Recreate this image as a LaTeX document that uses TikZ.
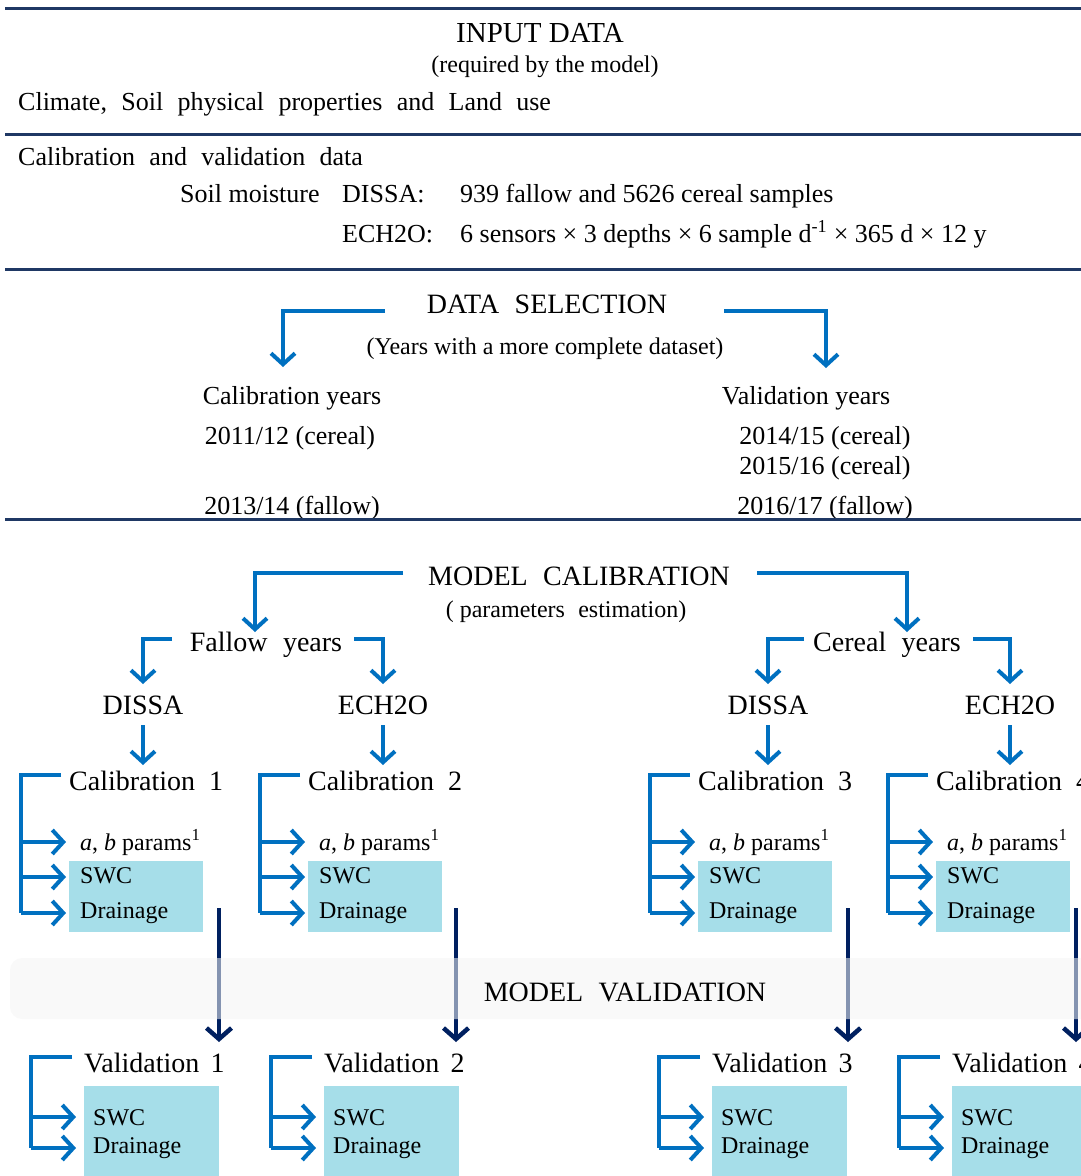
\documentclass[tikz,border=0pt]{standalone}
\usepackage{fontspec}
\setmainfont{Liberation Serif}
\usetikzlibrary{arrows.meta,calc}

\definecolor{flowblue}{RGB}{0,112,192}
\definecolor{deepnavy}{RGB}{0,32,96}
\definecolor{rulecol}{RGB}{31,56,100}
\definecolor{resultfill}{RGB}{166,222,233}
\definecolor{bandgray}{RGB}{244,244,244}

\newcommand\wsp{\hspace{0.55em}}

\tikzset{
  rulebar/.style={draw=rulecol, line width=3pt},
  flowline/.style={draw=flowblue, line width=4pt},
  flow/.style={flowline, -{Straight Barb[length=11pt,width=24pt]}},
  navyflow/.style={draw=deepnavy, line width=4.5pt, -{Straight Barb[length=11pt,width=25pt]}},
  txt/.style={inner sep=0pt, text=black},
  title/.style={txt, font=\fontsize{29}{33}\selectfont},
  paren/.style={txt, font=\fontsize{24}{28}\selectfont},
  body/.style={txt, font=\fontsize{26}{30}\selectfont},
  head/.style={txt, font=\fontsize{28}{32}\selectfont},
  small/.style={txt, font=\fontsize{24}{28}\selectfont},
  result/.style={fill=resultfill, draw=none, inner sep=0pt, anchor=north west},
}

% one calibration branch: #1 id, #2 spine x, #3 number
\newcommand\calunit[3]{%
  \node[head, anchor=base west] (cal#1) at (#2+48,790) {Calibration\hspace{0.5em}#3};
  \node[result, minimum width=134pt, minimum height=71pt] (cbox#1) at (#2+48,861) {};
  \node[small, anchor=base west] (par#1) at (#2+59,850) {\textit{a}, \textit{b} params\textsuperscript{1}};
  \node[small, anchor=base west] (cswc#1) at (#2+59,883) {SWC};
  \node[small, anchor=base west] (cdr#1) at (#2+59,918) {Drainage};
  \draw[flowline] (#2+40,775) -- (#2,775) -- (#2,913);
  \draw[flow] (#2,842) -- (#2+45,842);
  \draw[flow] (#2,877) -- (#2+45,877);
  \draw[flow] (#2,913) -- (#2+45,913);
}

% one validation branch: #1 id, #2 spine x, #3 number
\newcommand\valunit[3]{%
  \node[head, anchor=base west] (val#1) at (#2+53,1072) {Validation\hspace{0.4em}#3};
  \node[result, minimum width=135pt, minimum height=100pt] (vbox#1) at (#2+53,1086) {};
  \node[small, anchor=base west] (vswc#1) at (#2+62,1125) {SWC};
  \node[small, anchor=base west] (vdr#1) at (#2+62,1153) {Drainage};
  \draw[flowline] (#2+41,1057) -- (#2,1057) -- (#2,1148);
  \draw[flow] (#2,1117) -- (#2+45,1117);
  \draw[flow] (#2,1148) -- (#2+45,1148);
}

\begin{document}
\begin{tikzpicture}[x=1pt,y=-1pt]
\useasboundingbox (0,0) rectangle (1081,1176);
\clip (0,0) rectangle (1081,1176);

% ---------- input data ----------
\draw[rulebar] (5,8) -- (1090,8);
\node[title, anchor=base] (inp) at (540,42) {INPUT DATA};
\node[paren, anchor=base] (inpsub) at (545,72) {(required by the model)};
\node[body, anchor=base west] (clim) at (18,110) {Climate,\wsp Soil\wsp physical\wsp properties\wsp and\wsp Land\wsp use};
\draw[rulebar] (5,134) -- (1090,134);
\node[body, anchor=base west] (cvd) at (18,165) {Calibration\wsp and\wsp validation\wsp data};
\node[body, anchor=base west] (sm) at (180,202) {Soil moisture};
\node[body, anchor=base west] (dissa) at (342,202) {DISSA:};
\node[body, anchor=base west] (dissan) at (460,202) {939 fallow and 5626 cereal samples};
\node[body, anchor=base west] (ech) at (342,242) {ECH2O:};
\node[body, anchor=base west] (echn) at (460,242) {6 sensors × 3 depths × 6 sample d\textsuperscript{-1} × 365 d × 12 y};
\draw[rulebar] (5,269) -- (1090,269);

% ---------- data selection ----------
\node[head, anchor=base] (dsel) at (547,313) {DATA\wsp SELECTION};
\node[paren, anchor=base] (dselsub) at (545,354) {(Years with a more complete dataset)};
\node[body, anchor=base] (caly) at (292,404) {Calibration years};
\node[body, anchor=base] (valy) at (806,404) {Validation years};
\draw[flow] (385,311) -- (283,311) -- (283,367);
\draw[flow] (724,311) -- (826,311) -- (826,368);
\node[body, anchor=base] (y1) at (290,444) {2011/12 (cereal)};
\node[body, anchor=base] (y2) at (292,514) {2013/14 (fallow)};
\node[body, anchor=base] (y3) at (825,444) {2014/15 (cereal)};
\node[body, anchor=base] (y4) at (825,474) {2015/16 (cereal)};
\node[body, anchor=base] (y5) at (825,514) {2016/17 (fallow)};
\draw[rulebar] (5,519) -- (1090,519);

% ---------- model calibration ----------
\node[head, anchor=base] (mcal) at (579,585) {MODEL\wsp CALIBRATION};
\node[paren, anchor=base] (mcalsub) at (566,617) {( parameters\wsp estimation)};
\node[head, anchor=base] (fal) at (266,651) {Fallow\wsp years};
\node[head, anchor=base] (cer) at (887,651) {Cereal\wsp years};
\draw[flow] (403,573) -- (255,573) -- (255,632);
\draw[flow] (757,573) -- (907,573) -- (907,632);

\node[head, anchor=base] (fd) at (143,714) {DISSA};
\node[head, anchor=base] (fe) at (383,714) {ECH2O};
\node[head, anchor=base] (cd) at (768,714) {DISSA};
\node[head, anchor=base] (ce) at (1010,714) {ECH2O};
\draw[flow] (172,639) -- (143,639) -- (143,684);
\draw[flow] (354,639) -- (383,639) -- (383,684);
\draw[flow] (804,639) -- (768,639) -- (768,684);
\draw[flow] (973,639) -- (1010,639) -- (1010,684);
\foreach \xx in {143,383,768,1010} \draw[flow] (\xx,725) -- (\xx,765);

\calunit{1}{21}{1}
\calunit{2}{260}{2}
\calunit{3}{650}{3}
\calunit{4}{888}{4}

% ---------- model validation ----------
\foreach \xx in {219,456,848,1076} \draw[navyflow] (\xx,908) -- (\xx,1042);
\fill[bandgray, fill opacity=0.55, rounded corners=12pt] (10,958) rectangle (1100,1019);
\node[head, anchor=base] (mval) at (625,1001) {MODEL\wsp VALIDATION};

\valunit{1}{31}{1}
\valunit{2}{271}{2}
\valunit{3}{659}{3}
\valunit{4}{899}{4}
\end{tikzpicture}
\end{document}
